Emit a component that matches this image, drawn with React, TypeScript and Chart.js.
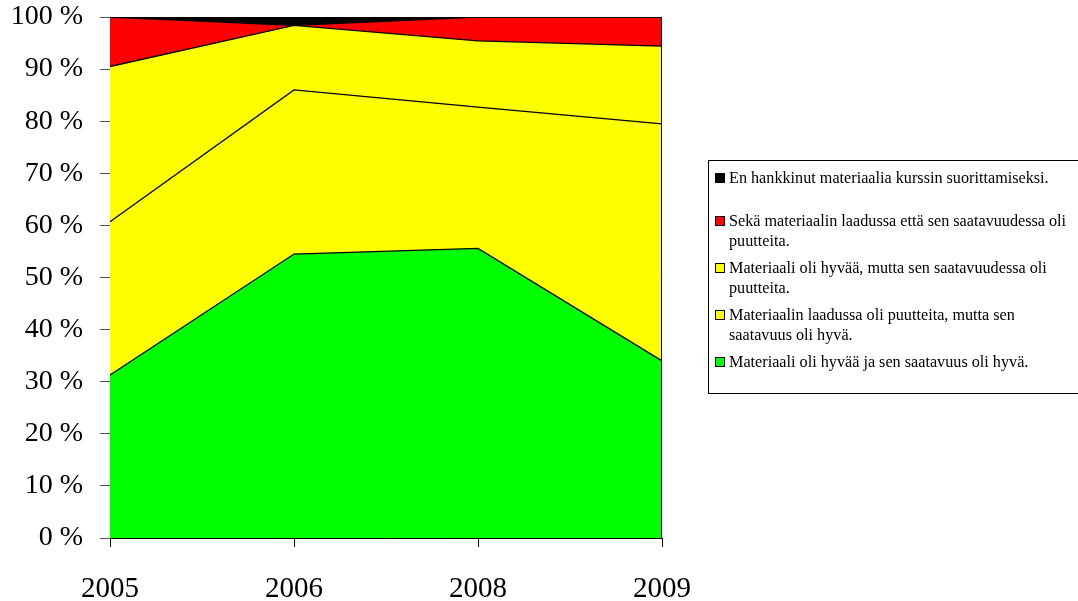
import React, { useEffect, useRef } from "react";
import { Chart, registerables } from "chart.js";

Chart.register(...registerables);

const years = ["2005", "2006", "2008", "2009"];

// Shares (%) per year, stacked bottom to top
const goodBoth = [31.3, 54.5, 55.6, 34.0];
const qualityLacking = [29.4, 31.5, 27.1, 45.5];
const availabilityLacking = [29.8, 12.4, 12.7, 14.9];
const bothLacking = [9.5, 0, 4.6, 5.6];
const notAcquired = [0, 1.6, 0, 0];

const seriesNames = [
  "Materiaali oli hyvää ja sen saatavuus oli hyvä.",
  "Materiaalin laadussa oli puutteita, mutta sen saatavuus oli hyvä.",
  "Materiaali oli hyvää, mutta sen saatavuudessa oli puutteita.",
  "Sekä materiaalin laadussa että sen saatavuudessa oli puutteita.",
  "En hankkinut materiaalia kurssin suorittamiseksi.",
];
const seriesColors = ["#00ff00", "#ffff00", "#ffff00", "#ff0000", "#000000"];

const yTicks = [0, 10, 20, 30, 40, 50, 60, 70, 80, 90, 100];

const FONT = "'Liberation Serif', 'Times New Roman', serif";

const frame = {
  id: "frame",
  afterDatasetsDraw(chart: any) {
    const { ctx, chartArea: a } = chart;
    ctx.save();
    ctx.strokeStyle = "#000";
    ctx.lineWidth = 1;
    ctx.beginPath();
    ctx.moveTo(a.left, a.top + 0.5);
    ctx.lineTo(a.right - 0.5, a.top + 0.5);
    ctx.lineTo(a.right - 0.5, a.bottom);
    ctx.stroke();
    ctx.restore();
  },
};

export default function App() {
  const ref = useRef<HTMLCanvasElement>(null);

  useEffect(() => {
    const values = [goodBoth, qualityLacking, availabilityLacking, bothLacking, notAcquired];
    const chart = new Chart(ref.current!, {
      type: "line",
      data: {
        labels: years,
        datasets: values.map((v, i) => ({
          label: seriesNames[i],
          data: v,
          backgroundColor: seriesColors[i],
          borderColor: "#000",
          borderWidth: 1.3,
          pointRadius: 0,
          tension: 0,
          fill: i === 0 ? "origin" : "-1",
        })),
      },
      options: {
        animation: false,
        responsive: false,
        layout: { padding: { top: 17, right: 416, left: 0, bottom: 0 } },
        plugins: { legend: { display: false }, tooltip: { enabled: false } },
        scales: {
          x: {
            offset: false,
            grid: { drawOnChartArea: false, tickLength: 9, color: "#000" },
            border: { color: "#000", width: 1 },
            ticks: {
              color: "#000",
              padding: 25,
              maxRotation: 0,
              font: { family: FONT, size: 29 },
            },
            afterFit(s: any) {
              s.height = 63;
              s.paddingLeft = 0;
              s.paddingRight = 0;
            },
          },
          y: {
            stacked: true,
            min: 0,
            max: 100,
            afterBuildTicks(s: any) {
              s.ticks = yTicks.map((v) => ({ value: v }));
            },
            grid: { drawOnChartArea: false, tickLength: 10, color: "#555" },
            border: { color: "#000", width: 1 },
            ticks: {
              color: "#000",
              padding: 17,
              font: { family: FONT, size: 28 },
              callback: (v: any) => `${v} %`,
            },
            afterFit(s: any) {
              s.width = 110;
              s.paddingTop = 0;
              s.paddingBottom = 0;
            },
          },
        },
      },
      plugins: [frame],
    });
    return () => chart.destroy();
  }, []);

  const legendRows = [
    { color: seriesColors[4], lines: [seriesNames[4]], top: 168 },
    { color: seriesColors[3], lines: ["Sekä materiaalin laadussa että sen saatavuudessa oli", "puutteita."], top: 211 },
    { color: seriesColors[2], lines: ["Materiaali oli hyvää, mutta sen saatavuudessa oli", "puutteita."], top: 258 },
    { color: seriesColors[1], lines: ["Materiaalin laadussa oli puutteita, mutta sen", "saatavuus oli hyvä."], top: 305 },
    { color: seriesColors[0], lines: [seriesNames[0]], top: 352 },
  ];

  return (
    <div style={{ position: "fixed", left: 0, top: 0, width: 1078, height: 601, background: "#fff", overflow: "hidden" }}>
      <canvas ref={ref} width={1078} height={601} style={{ position: "absolute", left: 0, top: 0 }} />
      <div
        style={{
          position: "absolute",
          left: 708,
          top: 160,
          width: 400,
          height: 234,
          border: "1px solid #000",
          boxSizing: "border-box",
        }}
      />
      {legendRows.map((r, i) => (
        <div key={i} style={{ position: "absolute", left: 715, top: r.top, fontFamily: FONT, fontSize: 16.2, lineHeight: "20px", color: "#000", whiteSpace: "nowrap" }}>
          <span
            style={{
              position: "absolute",
              left: 0,
              top: 5,
              width: 10,
              height: 10,
              background: r.color,
              border: "1px solid #000",
              boxSizing: "border-box",
            }}
          />
          {r.lines.map((l, j) => (
            <div key={j} style={{ paddingLeft: 14 }}>{l}</div>
          ))}
        </div>
      ))}
    </div>
  );
}
